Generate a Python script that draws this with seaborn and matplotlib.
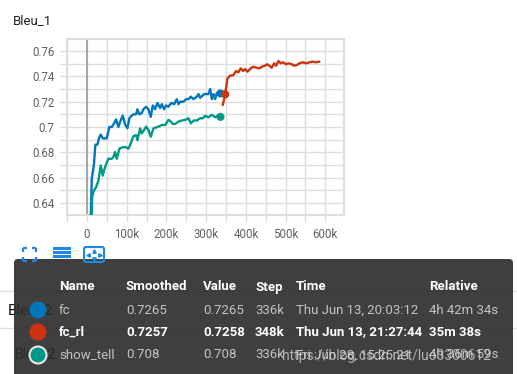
import pandas as pd
import seaborn as sns
import matplotlib.pyplot as plt
from matplotlib.ticker import MultipleLocator
from matplotlib.patches import FancyBboxPatch, Circle, Rectangle

# ---- data ----
fc_steps = [8500, 12000, 17600, 21000, 26000, 31000, 34500, 39500, 49600, 56300,
            62200, 66400, 73100, 79000, 83200, 90000, 95800, 101700, 106700, 112600,
            116800, 123500, 126900, 131900, 137800, 142000, 148700, 154600, 160500, 165500,
            171400, 177300, 184000, 188200, 194100, 199200, 205000, 209200, 213400, 219300,
            226000, 230300, 234500, 242900, 249600, 255500, 261300, 268000, 276500, 280700,
            284900, 291600, 295000, 300000, 305900, 310100, 314300, 318500, 322700, 326900,
            336000]
fc_vals = [0.620, 0.659, 0.671, 0.686, 0.686, 0.692, 0.694, 0.691, 0.691, 0.700,
           0.700, 0.702, 0.706, 0.700, 0.704, 0.709, 0.702, 0.699, 0.707, 0.709,
           0.710, 0.710, 0.714, 0.710, 0.711, 0.714, 0.716, 0.714, 0.708, 0.717,
           0.714, 0.719, 0.715, 0.718, 0.714, 0.717, 0.716, 0.718, 0.719, 0.718,
           0.722, 0.718, 0.720, 0.720, 0.722, 0.722, 0.724, 0.722, 0.724, 0.726,
           0.723, 0.725, 0.726, 0.726, 0.726, 0.730, 0.722, 0.726, 0.722, 0.727,
           0.7265]

st_steps = [10500, 13000, 17600, 22700, 28600, 34500, 39500, 45400, 53800, 62200,
            66400, 70600, 74800, 81500, 87400, 95800, 104200, 108400, 116800, 123500,
            126900, 133600, 137800, 143700, 148700, 154600, 160500, 167200, 174000, 179800,
            188200, 196600, 205000, 210900, 216000, 221800, 230300, 238700, 247100, 255500,
            261300, 268000, 276500, 284900, 291600, 297500, 305900, 314300, 322700, 328600,
            336000]
st_vals = [0.615, 0.645, 0.650, 0.6523, 0.6576, 0.6696, 0.6616, 0.6683, 0.6749, 0.6749,
           0.6763, 0.6803, 0.6749, 0.6829, 0.6837, 0.6843, 0.6829, 0.6856, 0.6928, 0.6936,
           0.6896, 0.6989, 0.6949, 0.6976, 0.7003, 0.6976, 0.6923, 0.6989, 0.6997, 0.7003,
           0.7016, 0.7016, 0.7056, 0.7043, 0.7024, 0.7024, 0.7043, 0.7051, 0.7056, 0.7069,
           0.7029, 0.7051, 0.7051, 0.7069, 0.7069, 0.7088, 0.7077, 0.7096, 0.7077, 0.7088,
           0.708]

rl_steps = [341800, 348000, 353400, 360000, 368500, 375300, 381000, 387000, 393000, 398000,
            404000, 412000, 419000, 427000, 434000, 440000, 448000, 454000, 459000, 465000,
            471000, 476000, 482000, 488000, 494000, 501000, 507000, 516000, 521000, 528000,
            535000, 543000, 552000, 560000, 569000, 577000, 585000]
rl_vals = [0.7174, 0.7258, 0.7384, 0.7405, 0.741, 0.7442, 0.7432, 0.7463, 0.7442, 0.7458,
           0.7437, 0.7463, 0.7476, 0.7468, 0.7463, 0.7476, 0.7484, 0.7495, 0.7484, 0.7468,
           0.7503, 0.7484, 0.7521, 0.7503, 0.7511, 0.7495, 0.7503, 0.7495, 0.7484, 0.7489,
           0.7503, 0.7511, 0.7503, 0.7511, 0.7516, 0.7511, 0.7516]

# tooltip rows
runs = ["fc", "fc_rl", "show_tell"]
smoothed = ["0.7265", "0.7257", "0.708"]
values = ["0.7265", "0.7258", "0.708"]
hover_steps = [336000, 348000, 336000]
hover_vals = [0.7265, 0.7258, 0.708]
step_labels = ["336k", "348k", "336k"]
times = ["Thu Jun 13, 20:03:12", "Thu Jun 13, 21:27:44", "Fri Jun 28, 15:25:21"]
relative = ["4h 42m 34s", "35m 38s", "4h 36m 59s"]
colors = {"fc": "#0077bb", "fc_rl": "#cc3311", "show_tell": "#009988"}

xticks = [0, 100000, 200000, 300000, 400000, 500000, 600000]
xticklabels = ["0", "100k", "200k", "300k", "400k", "500k", "600k"]
yticks = [0.64, 0.66, 0.68, 0.70, 0.72, 0.74, 0.76]
yticklabels = ["0.64", "0.66", "0.68", "0.7", "0.72", "0.74", "0.76"]

df = pd.concat([
    pd.DataFrame({"step": fc_steps, "value": fc_vals, "run": "fc"}),
    pd.DataFrame({"step": rl_steps, "value": rl_vals, "run": "fc_rl"}),
    pd.DataFrame({"step": st_steps, "value": st_vals, "run": "show_tell"}),
])
hover = pd.DataFrame({"step": hover_steps, "value": hover_vals, "run": runs})

sns.set_theme(style="white")
plt.rcParams["font.family"] = ["Roboto", "DejaVu Sans"]

W, H = 517, 374
fig = plt.figure(figsize=(W / 100, H / 100), dpi=100)
ax = fig.add_axes([67 / W, 1 - 215 / H, 277 / W, 176 / H])

grid_c = "#dedede"
ax.set_xlim(-50400, 647000)
ax.set_ylim(0.6305, 0.7695)
ax.xaxis.set_minor_locator(MultipleLocator(50000))
ax.yaxis.set_minor_locator(MultipleLocator(0.01))
ax.grid(which="both", color=grid_c, lw=1)
ax.axvline(0, color="#a0a0a0", lw=1.3, zorder=1.5)

sns.lineplot(data=df, x="step", y="value", hue="run", palette=colors,
             linewidth=1.7, legend=False, ax=ax, zorder=3)
sns.scatterplot(data=hover, x="step", y="value", hue="run", palette=colors,
                s=34, linewidth=0, legend=False, ax=ax, zorder=4)

ax.set_xticks(xticks, xticklabels)
ax.set_yticks(yticks, yticklabels)
ax.tick_params(which="both", length=5, width=1, color=grid_c, labelsize=8.3,
               labelcolor="#616161", pad=4, bottom=True, left=True)
for s in ax.spines.values():
    s.set_color(grid_c)
    s.set_linewidth(1.5)
ax.set_xlabel("")
ax.set_ylabel("")

# ---- overlay in pixel coordinates ----
ov = fig.add_axes([0, 0, 1, 1], zorder=10)
ov.set_xlim(0, W)
ov.set_ylim(H, 0)
ov.axis("off")
ov.patch.set_alpha(0)

ov.text(13, 21, "Bleu_1", fontsize=9.5, color="#212121", va="center", ha="left")

# page content behind the tooltip
for yy in (291, 328):
    ov.plot([0, W], [yy, yy], color="#e0e0e0", lw=1, zorder=1)
ov.text(8, 311, "Bleu_2", fontsize=11, color="#111111", va="center", zorder=1)
ov.text(15, 355, "Bleu_2", fontsize=10, color="#111111", va="center", zorder=1)

# tooltip
ov.add_patch(FancyBboxPatch((14, 259), 499, 130, boxstyle="round,pad=0,rounding_size=4",
                            facecolor="#2e2e2e", edgecolor="none", alpha=0.92, zorder=2))
col_x = [59, 126, 203, 255, 296, 429]
headers = ["Name", "Smoothed", "Value", "Step", "Time", "Relative"]
for x, h in zip(col_x, headers):
    ov.text(x, 287, h, fontsize=9.5, fontweight="bold", color="white", va="center", zorder=3)
row_y = [310, 332, 355]
for i, run in enumerate(runs):
    hot = run == "fc_rl"
    c = "white" if hot else "#c4c4c4"
    w = "bold" if hot else "normal"
    edge = "#e8e8e8" if run == "show_tell" else "none"
    ov.add_patch(Circle((38, row_y[i]), 8.5, facecolor=colors[run], edgecolor=edge,
                        lw=1.5, zorder=3))
    cells = [run, smoothed[i], values[i], step_labels[i], times[i], relative[i]]
    for x, t in zip(col_x, cells):
        ov.text(x, row_y[i], t, fontsize=9.5, fontweight=w, color=c, va="center", zorder=3)
ov.text(282, 356, "https://blog.csdn.net/luo3300612", fontsize=10, color="#d8d8d8",
        alpha=0.75, va="center", zorder=4)

# toolbar icons
ic = "#1e88e5"
for (x0, y0, dx, dy) in [(23, 248, 1, 1), (36, 248, -1, 1), (23, 261, 1, -1), (36, 261, -1, -1)]:
    ov.plot([x0, x0 + 4 * dx], [y0, y0], color=ic, lw=1.6, solid_capstyle="butt", zorder=5)
    ov.plot([x0, x0], [y0, y0 + 4 * dy], color=ic, lw=1.6, solid_capstyle="butt", zorder=5)
for yy in (248.5, 252.5, 256.5):
    ov.add_patch(Rectangle((53, yy - 1.3), 18, 2.6, facecolor=ic, edgecolor="none", zorder=5))
ov.add_patch(FancyBboxPatch((84, 247), 20, 15, boxstyle="round,pad=0,rounding_size=2",
                            facecolor="none", edgecolor=ic, lw=1.5, zorder=5))
for (px, py, mk) in [(94, 250.5, "^"), (94, 258.5, "v"), (88, 254.5, "<"), (100, 254.5, ">")]:
    ov.plot(px, py, marker=mk, ms=2.5, color=ic, zorder=5)

fig.savefig("out.png", dpi=100)
